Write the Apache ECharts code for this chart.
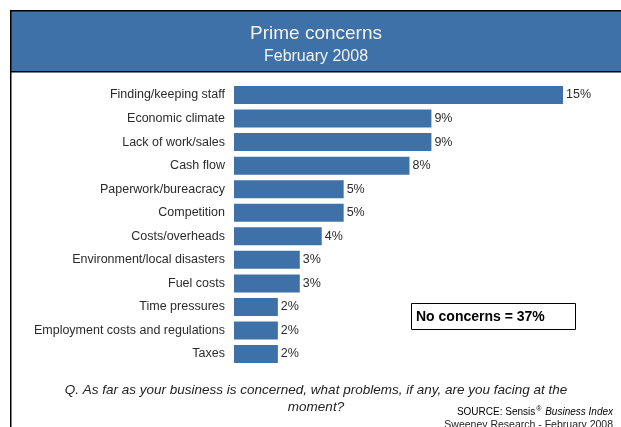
<!DOCTYPE html>
<html>
<head>
<meta charset="utf-8">
<script src="https://cdn.jsdelivr.net/npm/echarts@6/dist/echarts.min.js"></script>
<style>
html,body{margin:0;padding:0;background:#fff;}
#chart{width:621px;height:427px;}
</style>
</head>
<body>
<div id="chart"></div>
<script>
var categories = [
  'Finding/keeping staff',
  'Economic climate',
  'Lack of work/sales',
  'Cash flow',
  'Paperwork/bureacracy',
  'Competition',
  'Costs/overheads',
  'Environment/local disasters',
  'Fuel costs',
  'Time pressures',
  'Employment costs and regulations',
  'Taxes'
];
var values = [15, 9, 9, 8, 5, 5, 4, 3, 3, 2, 2, 2];
var titleText = 'Prime concerns';
var subtitleText = 'February 2008';
var noteText = 'No concerns = 37%';
var questionLines = [
  'Q. As far as your business is concerned, what problems, if any, are you facing at the',
  'moment?'
];

var FONT = "'Liberation Sans', Arial, sans-serif";
var BLUE = '#3e71a8';

var chart = echarts.init(document.getElementById('chart'), null, {renderer: 'canvas'});
chart.setOption({
  backgroundColor: '#ffffff',
  animation: false,
  title: {
    text: titleText,
    subtext: subtitleText,
    left: 311,
    top: 19,
    textAlign: 'center',
    itemGap: 6,
    textStyle: {color: '#f2f2f2', fontFamily: FONT, fontSize: 19, fontWeight: 'normal'},
    subtextStyle: {color: '#f2f2f2', fontFamily: FONT, fontSize: 16}
  },
  grid: {left: 234, right: 58, top: 83.2, bottom: 61.2, containLabel: false},
  xAxis: {
    type: 'value', min: 0, max: 15, show: false
  },
  yAxis: {
    type: 'category', data: categories, inverse: true,
    axisLine: {show: false}, axisTick: {show: false}, splitLine: {show: false},
    axisLabel: {color: '#2b2b2b', fontFamily: FONT, fontSize: 12.5, margin: 9}
  },
  series: [{
    type: 'bar',
    data: values,
    barWidth: 18,
    itemStyle: {color: BLUE},
    label: {
      show: true, position: 'right', distance: 3,
      formatter: function (p) { return p.value + '%'; },
      color: '#2b2b2b', fontFamily: FONT, fontSize: 12.5
    }
  }],
  graphic: [
    {type: 'rect', z: -10, shape: {x: 11, y: 11, width: 620, height: 60}, style: {fill: BLUE}},
    {type: 'polyline', z: 10, shape: {points: [[10.75, 427], [10.75, 10.75], [621, 10.75]]}, style: {stroke: '#000', lineWidth: 1.5, fill: null}},
    {type: 'line', z: 10, shape: {x1: 11, y1: 71.75, x2: 621, y2: 71.75}, style: {stroke: '#000', lineWidth: 1.5}},
    {type: 'rect', shape: {x: 411.5, y: 303.5, width: 164, height: 26}, style: {fill: '#fff', stroke: '#000', lineWidth: 1}},
    {type: 'text', x: 416, y: 317, style: {text: noteText, fill: '#000', font: 'bold 14px ' + FONT, textVerticalAlign: 'middle', textAlign: 'left'}},
    {type: 'text', x: 316, y: 390, style: {text: questionLines[0], fill: '#222', font: 'italic 13.5px ' + FONT, textAlign: 'center', textVerticalAlign: 'middle'}},
    {type: 'text', x: 316, y: 407, style: {text: questionLines[1], fill: '#222', font: 'italic 13.5px ' + FONT, textAlign: 'center', textVerticalAlign: 'middle'}},
    {type: 'text', x: 613, y: 412, style: {
      text: '{n|SOURCE: Sensis}{s|®}{n| }{i|Business Index}',
      textAlign: 'right', textVerticalAlign: 'middle',
      rich: {
        n: {fontFamily: FONT, fontSize: 10, color: '#222'},
        s: {fontFamily: FONT, fontSize: 7, color: '#222', verticalAlign: 'top', padding: [0, 1, 6, 1]},
        i: {fontFamily: FONT, fontSize: 10, fontStyle: 'italic', color: '#222'}
      }
    }},
    {type: 'text', x: 613, y: 425, style: {text: 'Sweeney Research - February 2008', fill: '#222', font: '10.5px ' + FONT, textAlign: 'right', textVerticalAlign: 'middle'}}
  ]
});
</script>
</body>
</html>
